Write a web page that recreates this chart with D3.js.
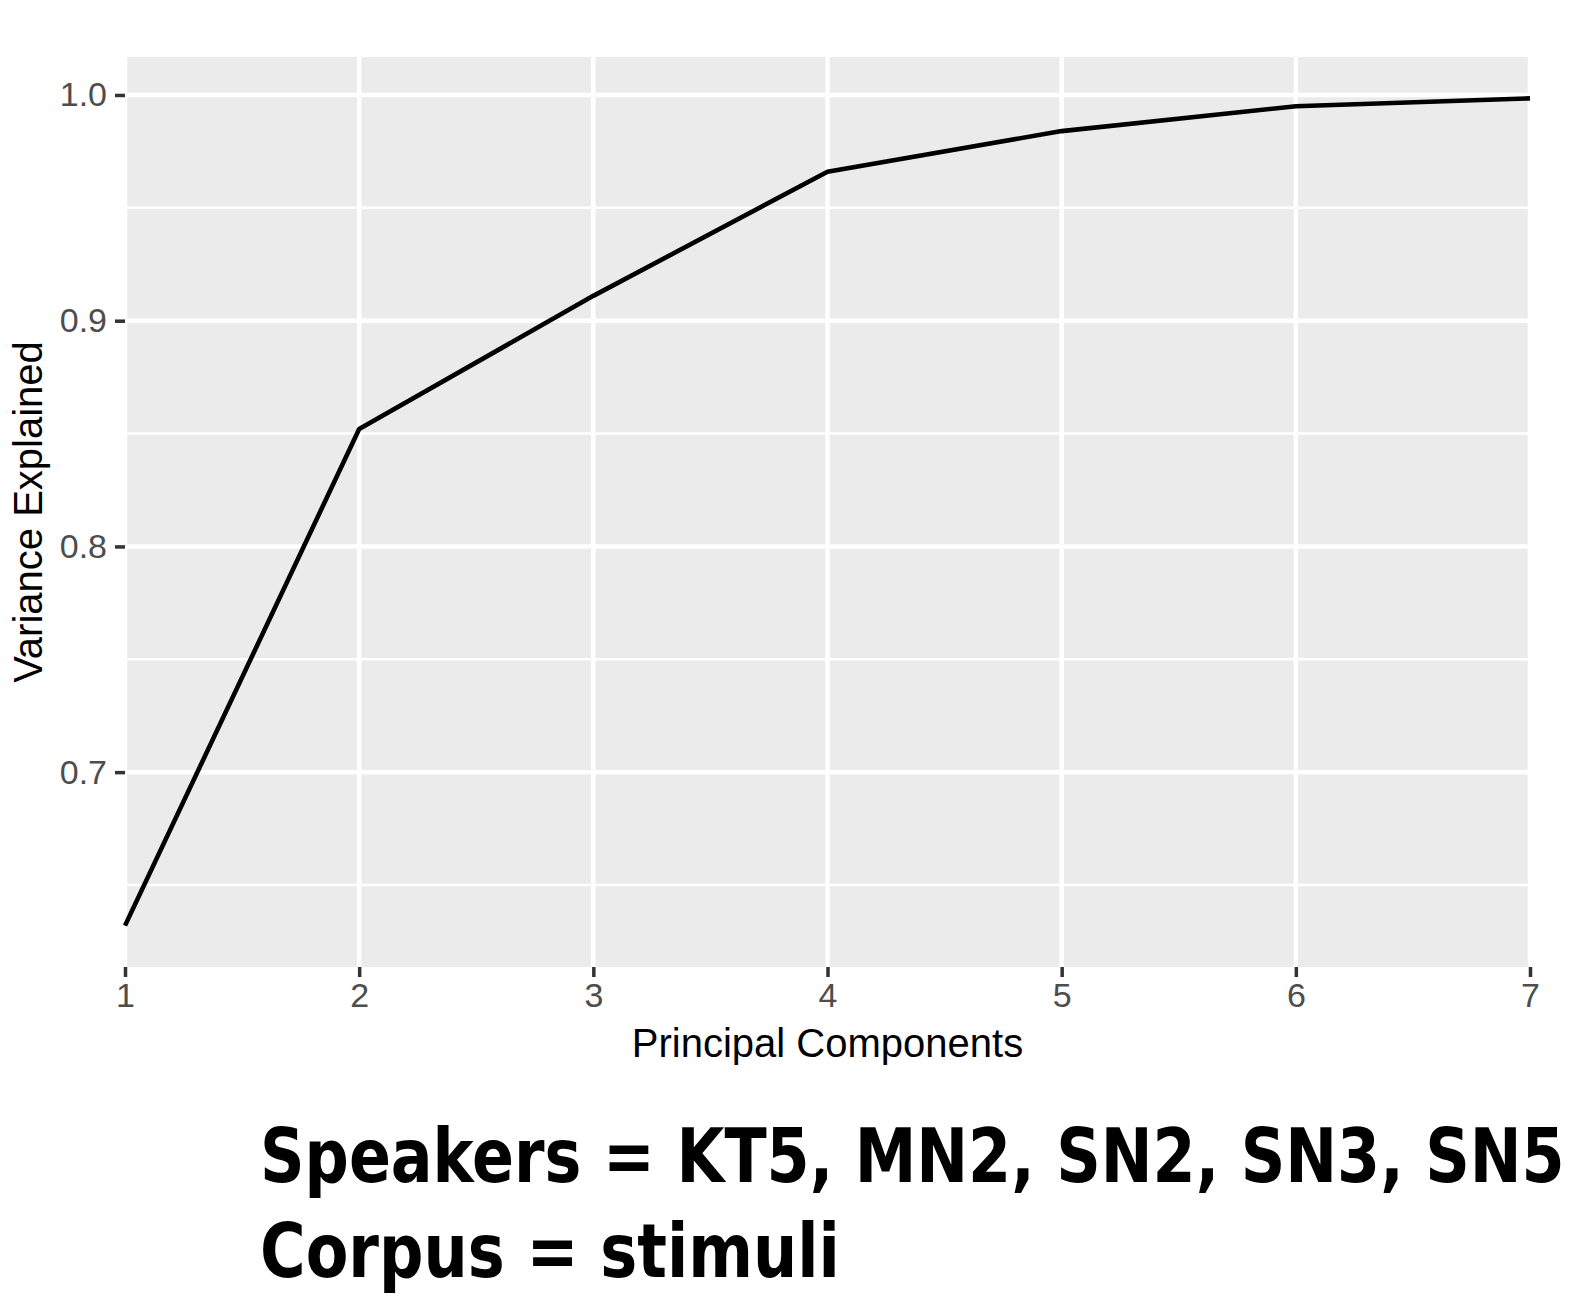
<!DOCTYPE html>
<html>
<head>
<meta charset="utf-8">
<script src="https://cdn.jsdelivr.net/npm/d3@7"></script>
<style>
  html, body { margin: 0; padding: 0; background: #fff; }
  svg { display: block; }
</style>
</head>
<body>
<svg id="chart" width="1581" height="1304"></svg>
<script>
const components = [1, 2, 3, 4, 5, 6, 7];
const varianceExplained = [0.632, 0.852, 0.911, 0.966, 0.984, 0.995, 0.9985];
const yTicks = [0.7, 0.8, 0.9, 1.0];
const yMinorTicks = [0.65, 0.75, 0.85, 0.95];
const xTitle = "Principal Components";
const yTitle = "Variance Explained";
const captionLines = ["Speakers = KT5, MN2, SN2, SN3, SN5", "Corpus = stimuli"];

const svg = d3.select("#chart");
const panel = { left: 125, right: 1530, top: 57, bottom: 967 };

const yLo = d3.min(varianceExplained), yHi = d3.max(varianceExplained);
const pad = (yHi - yLo) * 0.05;
const x = d3.scaleLinear().domain([1, 7]).range([panel.left, panel.right]);
const y = d3.scaleLinear().domain([yLo - pad, yHi + pad]).range([panel.bottom, panel.top]);

// panel background
svg.append("rect")
  .attr("x", panel.left).attr("y", panel.top)
  .attr("width", panel.right - panel.left).attr("height", panel.bottom - panel.top)
  .attr("fill", "#EBEBEB");

const grid = svg.append("g");
grid.selectAll(".ymin").data(yMinorTicks).enter().append("line")
  .attr("x1", panel.left).attr("x2", panel.right)
  .attr("y1", d => y(d)).attr("y2", d => y(d))
  .attr("stroke", "#fff").attr("stroke-width", 2.5);
grid.selectAll(".ymaj").data(yTicks).enter().append("line")
  .attr("x1", panel.left).attr("x2", panel.right)
  .attr("y1", d => y(d)).attr("y2", d => y(d))
  .attr("stroke", "#fff").attr("stroke-width", 4.5);
grid.selectAll(".xmaj").data(components).enter().append("line")
  .attr("y1", panel.top).attr("y2", panel.bottom)
  .attr("x1", d => x(d)).attr("x2", d => x(d))
  .attr("stroke", "#fff").attr("stroke-width", 4.5);

// line
const line = d3.line().x((d, i) => x(components[i])).y(d => y(d));
svg.append("path").datum(varianceExplained)
  .attr("d", line).attr("fill", "none")
  .attr("stroke", "#000").attr("stroke-width", 4.6).attr("stroke-linejoin", "round");

// axes
const fontAxis = "'Liberation Sans', Arial, sans-serif";
const yAxis = d3.axisLeft(y).tickValues(yTicks).tickFormat(d3.format(".1f")).tickSize(10).tickPadding(8);
const gy = svg.append("g").attr("transform", `translate(${panel.left},0)`).call(yAxis);
const xAxis = d3.axisBottom(x).tickValues(components).tickFormat(d3.format("d")).tickSize(10).tickPadding(6);
const gx = svg.append("g").attr("transform", `translate(0,${panel.bottom})`).call(xAxis);
[gx, gy].forEach(g => {
  g.select(".domain").remove();
  g.selectAll(".tick line").attr("stroke", "#333333").attr("stroke-width", 3.5);
  g.selectAll(".tick text").attr("fill", "#4D4D4D")
    .style("font-family", fontAxis).style("font-size", "34px");
});

// axis titles
svg.append("text")
  .attr("x", (panel.left + panel.right) / 2).attr("y", 1057)
  .attr("text-anchor", "middle")
  .style("font-family", fontAxis).style("font-size", "40px").attr("fill", "#000")
  .text(xTitle);
svg.append("text")
  .attr("transform", `translate(42,${(panel.top + panel.bottom) / 2}) rotate(-90)`)
  .attr("text-anchor", "middle")
  .style("font-family", fontAxis).style("font-size", "40px").attr("fill", "#000")
  .text(yTitle);

// caption (horizontally condensed bold text)
const capFont = "'DejaVu Sans', sans-serif";
const capWidths = [1305, 580];
const capY = [1182, 1277];
captionLines.forEach((t, i) => {
  const g = svg.append("g");
  const txt = g.append("text")
    .attr("x", 0).attr("y", 0)
    .style("font-family", capFont).style("font-weight", "bold").style("font-size", "75px")
    .attr("fill", "#000")
    .text(t);
  const w = txt.node().getComputedTextLength() || capWidths[i];
  g.attr("transform", `translate(260,${capY[i]}) scale(${capWidths[i] / w},1)`);
});
</script>
</body>
</html>
